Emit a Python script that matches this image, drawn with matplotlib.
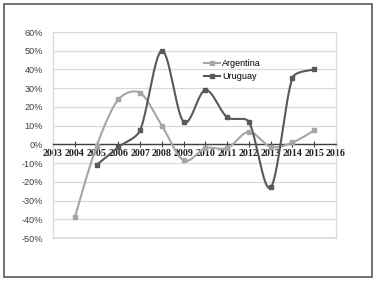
import numpy as np
import matplotlib
matplotlib.use("Agg")
import matplotlib.pyplot as plt
from matplotlib.lines import Line2D
from matplotlib.patches import Rectangle

years_arg = [2004, 2005, 2006, 2007, 2008, 2009, 2010, 2011, 2012, 2013, 2014, 2015]
argentina = [-39, -1, 24, 27.5, 10, -8.5, -2, -2, 6.7, -1.3, 1, 7.5]
years_uru = [2005, 2006, 2007, 2008, 2009, 2010, 2011, 2012, 2013, 2014, 2015]
uruguay = [-11, -1.5, 7.5, 50, 12, 29, 14.5, 12, -23, 35.5, 40]
x_ticks = list(range(2003, 2017))
y_ticks = list(range(-50, 61, 10))

C_ARG = "#a6a6a6"
C_URU = "#595959"

fig = plt.figure(figsize=(3.76, 2.81), dpi=100)
fig.patches.append(Rectangle((0.011, 0.015), 0.978, 0.97, transform=fig.transFigure,
                             fill=False, edgecolor="#595959", linewidth=1.2))
ax = fig.add_axes([53/376, 1-238/281, (336-53)/376, (238-32)/281])
ax.set_xlim(2003, 2016)
ax.set_ylim(-50, 60)


def smooth(xs, ys, n=30):
    # Excel-style smoothing (Catmull-Rom Bezier, clamped tangents) in display coords
    pts = ax.transData.transform(np.column_stack([xs, ys]))
    P = np.vstack([pts[0], pts, pts[-1]])
    out = []

    def clamp(v, lim):
        L = np.linalg.norm(v)
        return v * (lim / L) if L > lim and L > 0 else v

    for i in range(1, len(P) - 2):
        p0, p1, p2, p3 = P[i-1], P[i], P[i+1], P[i+2]
        d12 = np.linalg.norm(p2 - p1)
        c1 = p1 + clamp((p2 - p0) / 6, d12 / 3)
        c2 = p2 - clamp((p3 - p1) / 6, d12 / 3)
        t = np.linspace(0, 1, n)[:, None]
        seg = (1-t)**3*p1 + 3*(1-t)**2*t*c1 + 3*(1-t)*t**2*c2 + t**3*p2
        out.append(seg if i == 1 else seg[1:])
    seg = np.vstack(out)
    d = ax.transData.inverted().transform(seg)
    return d[:, 0], d[:, 1]

ax.set_yticks(y_ticks)
ax.set_yticklabels([f"{v}%" for v in y_ticks], fontsize=6.6, color="#404040",
                   family="Liberation Sans")
ax.tick_params(axis="y", length=0, pad=7)
ax.grid(axis="y", color="#d9d9d9", linewidth=0.9)
ax.axhline(-50, color="#d9d9d9", linewidth=1.2, clip_on=False, zorder=0.5)
ax.set_axisbelow(True)

ax.spines["bottom"].set_position(("data", 0))
ax.spines["bottom"].set_color("#404040")
ax.spines["bottom"].set_linewidth(1.0)
for s in ["left", "right", "top"]:
    ax.spines[s].set_color("#d9d9d9")
    ax.spines[s].set_linewidth(0.9)
ax.set_xticks(x_ticks)
ax.set_xticklabels([str(v) for v in x_ticks], fontsize=7.2, fontweight="bold",
                   family="Liberation Serif", color="#202020")
ax.tick_params(axis="x", direction="inout", length=4, width=0.8, color="#404040", pad=1)

sx, sy = smooth(years_arg, argentina)
ax.plot(sx, sy, color=C_ARG, linewidth=1.5, zorder=3)
ax.plot(years_arg, argentina, linestyle="none", marker="s", markersize=3,
        color=C_ARG, zorder=4)
sx, sy = smooth(years_uru, uruguay)
ax.plot(sx, sy, color=C_URU, linewidth=1.5, zorder=3)
ax.plot(years_uru, uruguay, linestyle="none", marker="s", markersize=3,
        color=C_URU, zorder=4)

handles = [Line2D([], [], color=C_ARG, linewidth=1.5, marker="s", markersize=3),
           Line2D([], [], color=C_URU, linewidth=1.5, marker="s", markersize=3)]
ax.legend(handles, ["Argentina", "Uruguay"], loc="upper left",
          bbox_to_anchor=(0.505, 0.91), frameon=False,
          handlelength=1.8, handletextpad=0.2, labelspacing=0.5,
          prop={"family": "Liberation Sans", "size": 6.5})

fig.savefig("out.png", dpi=100)
